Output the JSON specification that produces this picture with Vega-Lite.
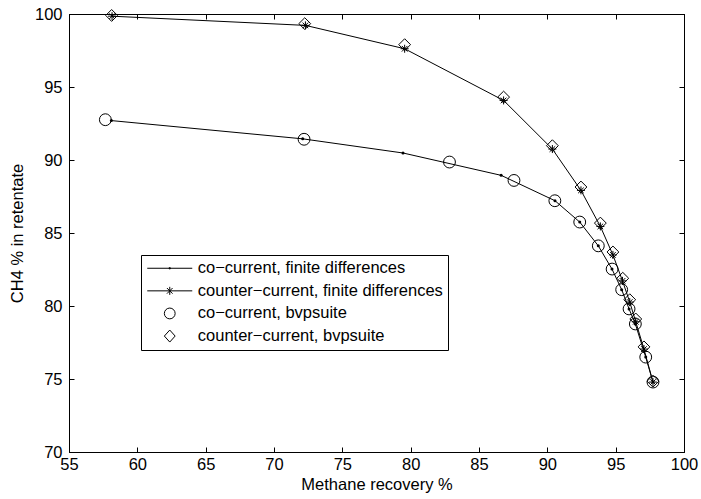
{
  "$schema": "https://vega.github.io/schema/vega-lite/v6.json",
  "width": 615,
  "height": 438,
  "autosize": {"type": "none"},
  "padding": {"left": 69, "top": 14, "right": 17, "bottom": 47},
  "background": "white",
  "config": {
    "view": {"stroke": "black", "strokeWidth": 1},
    "font": "Liberation Sans",
    "axis": {
      "domainColor": "black",
      "tickColor": "black",
      "labelColor": "black",
      "titleColor": "black",
      "labelFont": "Liberation Sans",
      "titleFont": "Liberation Sans",
      "labelFontSize": 16.5,
      "titleFontSize": 16.5,
      "titleFontWeight": "normal",
      "tickSize": -5,
      "grid": false
    },
    "legend": {
      "labelFont": "Liberation Sans",
      "labelFontSize": 16.5,
      "labelColor": "black",
      "labelLimit": 500
    }
  },
  "data": {
    "values": [
      {"series": "cofd", "x": 58.1, "y": 92.7},
      {"series": "cofd", "x": 72.1, "y": 91.45},
      {"series": "cofd", "x": 79.44, "y": 90.48},
      {"series": "cofd", "x": 86.62, "y": 88.95},
      {"series": "cofd", "x": 90.56, "y": 87.21},
      {"series": "cofd", "x": 92.37, "y": 85.75},
      {"series": "cofd", "x": 93.73, "y": 84.12},
      {"series": "cofd", "x": 94.73, "y": 82.53},
      {"series": "cofd", "x": 95.44, "y": 81.12},
      {"series": "cofd", "x": 95.98, "y": 79.8},
      {"series": "cofd", "x": 96.44, "y": 78.77},
      {"series": "cofd", "x": 97.2, "y": 76.5},
      {"series": "cofd", "x": 97.73, "y": 74.79},
      {"series": "ctfd", "x": 58.15, "y": 99.85},
      {"series": "ctfd", "x": 72.3, "y": 99.22},
      {"series": "ctfd", "x": 79.56, "y": 97.62},
      {"series": "ctfd", "x": 86.8, "y": 94.08},
      {"series": "ctfd", "x": 90.37, "y": 90.75},
      {"series": "ctfd", "x": 92.46, "y": 87.92},
      {"series": "ctfd", "x": 93.88, "y": 85.45},
      {"series": "ctfd", "x": 94.8, "y": 83.5},
      {"series": "ctfd", "x": 95.5, "y": 81.72},
      {"series": "ctfd", "x": 96.03, "y": 80.27},
      {"series": "ctfd", "x": 96.47, "y": 78.92},
      {"series": "ctfd", "x": 97.07, "y": 77.05},
      {"series": "ctfd", "x": 97.73, "y": 74.79},
      {"series": "ccbvp", "x": 57.66, "y": 92.76},
      {"series": "ccbvp", "x": 72.2, "y": 91.42},
      {"series": "ccbvp", "x": 82.84, "y": 89.86},
      {"series": "ccbvp", "x": 87.56, "y": 88.6},
      {"series": "ccbvp", "x": 90.55, "y": 87.21},
      {"series": "ccbvp", "x": 92.37, "y": 85.75},
      {"series": "ccbvp", "x": 93.73, "y": 84.12},
      {"series": "ccbvp", "x": 94.74, "y": 82.53},
      {"series": "ccbvp", "x": 95.44, "y": 81.12},
      {"series": "ccbvp", "x": 95.98, "y": 79.8},
      {"series": "ccbvp", "x": 96.44, "y": 78.77},
      {"series": "ccbvp", "x": 97.2, "y": 76.5},
      {"series": "ccbvp", "x": 97.73, "y": 74.79},
      {"series": "ctbvp", "x": 58.12, "y": 99.9},
      {"series": "ctbvp", "x": 72.25, "y": 99.34},
      {"series": "ctbvp", "x": 79.56, "y": 97.9},
      {"series": "ctbvp", "x": 86.8, "y": 94.31},
      {"series": "ctbvp", "x": 90.37, "y": 90.98},
      {"series": "ctbvp", "x": 92.46, "y": 88.15},
      {"series": "ctbvp", "x": 93.88, "y": 85.68},
      {"series": "ctbvp", "x": 94.8, "y": 83.7},
      {"series": "ctbvp", "x": 95.52, "y": 81.9},
      {"series": "ctbvp", "x": 96.03, "y": 80.43},
      {"series": "ctbvp", "x": 96.47, "y": 79.11},
      {"series": "ctbvp", "x": 97.07, "y": 77.2},
      {"series": "ctbvp", "x": 97.73, "y": 74.85}
    ]
  },
  "resolve": {"axis": {"x": "independent", "y": "independent"}},
  "layer": [
    {
      "transform": [{"filter": "datum.series === 'cofd'"}],
      "mark": {"type": "line", "color": "black", "strokeWidth": 1},
      "encoding": {
        "x": {"field": "x", "type": "quantitative", "scale": {"domain": [55, 100], "nice": false, "zero": false},
              "axis": {"orient": "bottom", "title": "Methane recovery %", "values": [55, 60, 65, 70, 75, 80, 85, 90, 95, 100], "labelPadding": 9, "titlePadding": 4, "labelFlush": false}},
        "y": {"field": "y", "type": "quantitative", "scale": {"domain": [70, 100], "nice": false, "zero": false},
              "axis": {"orient": "left", "title": "CH4 % in retentate", "values": [70, 75, 80, 85, 90, 95, 100], "labelPadding": 12, "titlePadding": 9, "labelFlush": false}}
      }
    },
    {
      "transform": [{"filter": "datum.series === 'cofd'"}],
      "mark": {"type": "point", "shape": "circle", "filled": true, "color": "black", "size": 9, "opacity": 1},
      "encoding": {
        "x": {"field": "x", "type": "quantitative", "axis": null},
        "y": {"field": "y", "type": "quantitative", "axis": null}
      }
    },
    {
      "transform": [{"filter": "datum.series === 'ctfd'"}],
      "mark": {"type": "line", "color": "black", "strokeWidth": 1},
      "encoding": {
        "x": {"field": "x", "type": "quantitative", "axis": null},
        "y": {"field": "y", "type": "quantitative", "axis": null}
      }
    },
    {
      "transform": [{"filter": "datum.series === 'ctfd'"}],
      "mark": {"type": "point", "shape": "M-1,0L1,0M0,-1L0,1M-0.7,-0.7L0.7,0.7M-0.7,0.7L0.7,-0.7", "filled": false, "color": "black", "size": 64, "strokeWidth": 1, "opacity": 1},
      "encoding": {
        "x": {"field": "x", "type": "quantitative", "axis": null},
        "y": {"field": "y", "type": "quantitative", "axis": null}
      }
    },
    {
      "transform": [{"filter": "datum.series === 'ccbvp'"}],
      "mark": {"type": "point", "shape": "circle", "filled": false, "color": "black", "size": 140, "strokeWidth": 1, "opacity": 1},
      "encoding": {
        "x": {"field": "x", "type": "quantitative", "axis": null},
        "y": {"field": "y", "type": "quantitative", "axis": null}
      }
    },
    {
      "transform": [{"filter": "datum.series === 'ctbvp'"}],
      "mark": {"type": "point", "shape": "diamond", "filled": false, "color": "black", "size": 140, "strokeWidth": 1, "opacity": 1},
      "encoding": {
        "x": {"field": "x", "type": "quantitative", "axis": null},
        "y": {"field": "y", "type": "quantitative", "axis": null}
      }
    },
    {
      "transform": [{"filter": "datum.x > 1000"}],
      "mark": {"type": "point", "filled": false, "color": "black", "strokeWidth": 1, "opacity": 1},
      "encoding": {
        "x": {"field": "x", "type": "quantitative",
              "axis": {"orient": "top", "title": null, "labels": false, "values": [55, 60, 65, 70, 75, 80, 85, 90, 95, 100]}},
        "y": {"field": "y", "type": "quantitative",
              "axis": {"orient": "right", "title": null, "labels": false, "values": [70, 75, 80, 85, 90, 95, 100]}},
        "shape": {
          "field": "series",
          "type": "nominal",
          "scale": {
            "domain": ["cofd", "ctfd", "ccbvp", "ctbvp"],
            "range": [
              "M-3.75,0L3.75,0M-0.2,0L0.2,0M0,-0.2L0,0.2",
              "M-3.75,0L3.75,0M0,-0.67L0,0.67M-0.47,-0.47L0.47,0.47M-0.47,0.47L0.47,-0.47",
              "M0.9,0A0.9,0.9 0 1 1 -0.9,0A0.9,0.9 0 1 1 0.9,0Z",
              "M0,-1L0.9,0L0,1L-0.9,0Z"
            ]
          },
          "legend": {
            "title": null,
            "orient": "none",
            "legendX": 72,
            "legendY": 241,
            "padding": 5,
            "strokeColor": "black",
            "fillColor": "white",
            "symbolSize": 144,
            "symbolStrokeColor": "black",
            "symbolFillColor": "transparent",
            "symbolStrokeWidth": 1,
            "symbolOffset": 15.5,
            "labelOffset": 19.8,
            "rowPadding": 5.6,
            "labelLimit": 500,
            "labelExpr": "datum.value === 'cofd' ? 'co−current, finite differences' : datum.value === 'ctfd' ? 'counter−current, finite differences' : datum.value === 'ccbvp' ? 'co−current, bvpsuite' : 'counter−current, bvpsuite'"
          }
        }
      }
    }
  ]
}
